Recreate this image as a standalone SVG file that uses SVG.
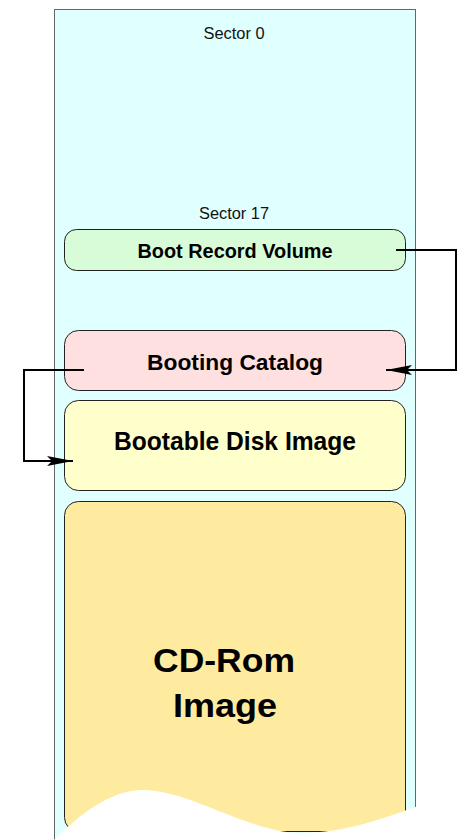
<svg xmlns="http://www.w3.org/2000/svg" width="458" height="840" viewBox="0 0 458 840">
<defs>
<style>
.box{stroke:#222;stroke-width:1}
.lbl{font-family:"Liberation Sans",Arial,sans-serif;font-weight:bold;fill:#000;text-anchor:middle}
.sec{font-family:"Liberation Sans",Arial,sans-serif;font-size:16px;fill:#111;text-anchor:middle}
.conn{fill:none;stroke:#000;stroke-width:2}
</style>
<marker id="arr" markerUnits="userSpaceOnUse" viewBox="-27 -6 28 12" markerWidth="28" markerHeight="12" refX="0" refY="0" orient="auto">
<path d="M0 0 L-26 -5 L-21 0 L-26 5 Z" fill="#000"/>
</marker>
</defs>
<rect width="458" height="840" fill="#fff"/>
<g id="disk">
<rect x="54.5" y="9.5" width="361" height="850" fill="#e0ffff" stroke="#666" stroke-width="1"/>
<text class="sec" x="234" y="39" textLength="61" lengthAdjust="spacingAndGlyphs">Sector 0</text>
<text class="sec" x="234" y="219" textLength="70" lengthAdjust="spacingAndGlyphs">Sector 17</text>
</g>
<g id="boot-record">
<rect class="box" x="64.5" y="229.5" width="341" height="41" rx="12" fill="#d8fcd8"/>
<text class="lbl" x="235" y="258" font-size="20" textLength="195" lengthAdjust="spacingAndGlyphs">Boot Record Volume</text>
</g>
<g id="booting-catalog">
<rect class="box" x="64.5" y="330.5" width="341" height="60" rx="14" fill="#ffe0e0"/>
<text class="lbl" x="235" y="369.5" font-size="22.5" textLength="176" lengthAdjust="spacingAndGlyphs">Booting Catalog</text>
</g>
<g id="bootable-disk">
<rect class="box" x="64.5" y="400.5" width="341" height="90" rx="14" fill="#ffffcc"/>
<text class="lbl" x="235" y="450" font-size="26" textLength="242" lengthAdjust="spacingAndGlyphs">Bootable Disk Image</text>
</g>
<g id="cdrom">
<rect class="box" x="64.5" y="501.5" width="341" height="330" rx="14" fill="#ffeba0"/>
<text class="lbl" x="224" y="672" font-size="34" textLength="142" lengthAdjust="spacingAndGlyphs">CD-Rom</text>
<text class="lbl" x="225" y="717" font-size="34" textLength="104" lengthAdjust="spacingAndGlyphs">Image</text>
</g>
<path id="tear" d="M46 848 C75 818 108 790 143 790 C190 790 250 833 300 833 C345 833 385 818 418 806 L458 796 L458 860 L40 860 Z" fill="#fff"/>
<g id="connectors">
<path class="conn" d="M396 250 H456 V370 H386" marker-end="url(#arr)"/>
<path class="conn" d="M84 370 H24 V461 H73" marker-end="url(#arr)"/>
</g>
</svg>
